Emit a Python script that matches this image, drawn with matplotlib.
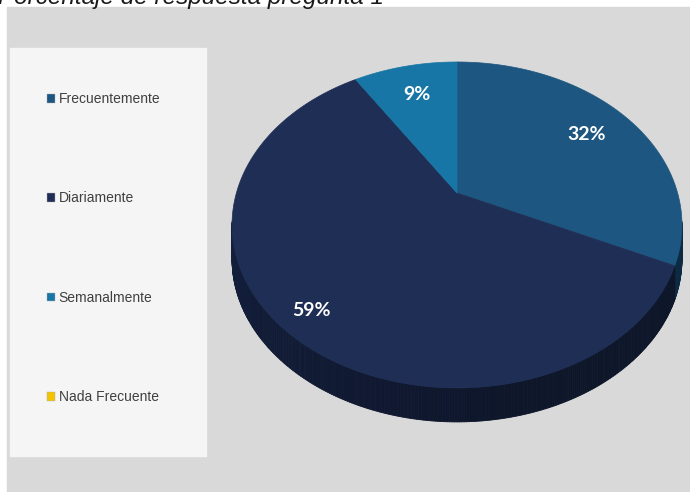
import numpy as np
import matplotlib
matplotlib.use("Agg")
import matplotlib.pyplot as plt
from matplotlib.patches import Rectangle, Polygon, Patch
from matplotlib.collections import PolyCollection
from matplotlib.colors import to_rgb

# datos de la pregunta 1
categorias = ["Frecuentemente", "Diariamente", "Semanalmente", "Nada Frecuente"]
porcentajes = [32, 59, 9, 0]
colores = ["#1d5680", "#1f2e54", "#1776a5", "#f2c300"]
colores_lado = ["#0f3452", "#111b35", "#0d4866", "#8a6f00"]
titulo = "Porcentaje de respuesta pregunta 1"

# geometria del pastel en perspectiva (pixeles)
cx, cy = 457, 193
A, B, k = 156.7, 220.6, -0.196
grosor = 34


def proyectar(r, theta):
    # theta en grados, desde las 12 en sentido horario
    t = np.radians(theta)
    u = r * np.sin(t)
    v = -r * np.cos(t)
    w = 1 + k * v
    return cx + B * u / w, cy + A * v / w


fig = plt.figure(figsize=(6.9, 4.92), dpi=100)
ax = fig.add_axes([0, 0, 1, 1])
ax.set_xlim(0, 690)
ax.set_ylim(492, 0)
ax.axis("off")

# fondo gris y panel de leyenda
ax.add_patch(Rectangle((7, 7), 690, 492, color="#d9d9d9", zorder=0))
ax.add_patch(Rectangle((10, 48), 196, 408, color="#f5f5f5", zorder=1))

ax.text(-2, 4, titulo, fontsize=17.5, style="italic", family="Liberation Sans",
        color="#1a1a1a", va="baseline", ha="left", clip_on=False)

total = sum(porcentajes)
inicio = np.cumsum([0] + porcentajes[:-1]) / total * 360
fin = np.cumsum(porcentajes) / total * 360

# lados del cilindro (solo la parte frontal visible)
quads = []
cols = []
for i in range(len(porcentajes)):
    if porcentajes[i] == 0:
        continue
    th = np.linspace(inicio[i], fin[i], max(int(fin[i] - inicio[i]) * 2, 4))
    base = np.array(to_rgb(colores_lado[i]))
    for a, b in zip(th[:-1], th[1:]):
        m = (a + b) / 2
        if not (100 <= m % 360 <= 260):
            continue
        x1, y1 = proyectar(1, a)
        x2, y2 = proyectar(1, b)
        quads.append([(x1, y1), (x2, y2), (x2, y2 + grosor), (x1, y1 + grosor)])
        # un poco mas claro hacia la izquierda
        f = 0.8 + 0.35 * np.clip((m - 170) / 90, 0, 1)
        cols.append(np.clip(base * f, 0, 1))
pc = PolyCollection(quads, facecolors=cols, edgecolors=cols, linewidths=0.6, zorder=3)
ax.add_collection(pc)

# caras superiores
for i in range(len(porcentajes)):
    if porcentajes[i] == 0:
        continue
    th = np.linspace(inicio[i], fin[i], 200)
    pts = [(cx, cy)] + [proyectar(1, t) for t in th]
    ax.add_patch(Polygon(pts, closed=True, facecolor=colores[i],
                         edgecolor=colores[i], linewidth=0.5, zorder=4))

# etiquetas de porcentaje
radio_etiqueta = [0.75, 0.87, 0.75, 0.75]
for i in range(len(porcentajes)):
    if porcentajes[i] == 0:
        continue
    x, y = proyectar(radio_etiqueta[i], (inicio[i] + fin[i]) / 2)
    ax.text(x, y, f"{porcentajes[i]}%", color="white", fontsize=14,
            fontweight="bold", family="Lato", ha="center", va="center", zorder=5)

# leyenda
handles = [Patch(facecolor=c, edgecolor="#b0b0b0", linewidth=0.3) for c in colores]
leg = ax.legend(handles, categorias, loc="upper left",
                bbox_to_anchor=(47 / 690, 1 - 92 / 492), frameon=False,
                prop={"family": "Liberation Sans", "size": 10},
                handlelength=0.6, handleheight=0.6, handletextpad=0.25,
                labelspacing=6.15, borderpad=0, borderaxespad=0)
for t in leg.get_texts():
    t.set_color("#404040")

fig.savefig("out.png", dpi=100, facecolor="white")
